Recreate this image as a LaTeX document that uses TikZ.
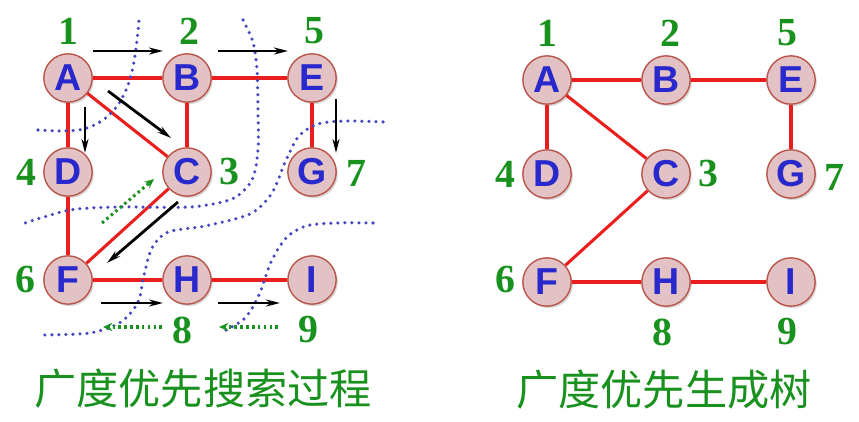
\documentclass[tikz,border=0pt]{standalone}
\usepackage{fontspec}
\setmainfont{Liberation Serif}
\setsansfont{Liberation Sans}
\newfontfamily\cjk{Noto Sans CJK SC}
\usetikzlibrary{arrows.meta,shadows}
\definecolor{nodefill}{RGB}{226,194,196}
\definecolor{nodeedge}{RGB}{185,85,75}
\definecolor{letterblue}{RGB}{40,40,205}
\definecolor{numgreen}{RGB}{25,145,30}
\definecolor{edgered}{RGB}{235,30,30}
\definecolor{layerblue}{RGB}{70,70,190}
\tikzset{
  vertex/.style={circle, draw=nodeedge, line width=1.2pt, fill=nodefill,
    minimum size=1.45cm, inner sep=0pt, text=letterblue,
    font=\sffamily\bfseries\fontsize{32}{32}\selectfont,
    drop shadow={shadow xshift=0.05cm, shadow yshift=-0.06cm, opacity=0.3}},
  order/.style={text=numgreen, font=\bfseries\fontsize{34}{34}\selectfont},
  caption/.style={text=numgreen, font=\cjk\fontsize{36}{36}\selectfont},
  tree/.style={draw=edgered, line width=2.6pt},
  visit/.style={-{Stealth[length=12pt,width=6pt]}, line width=2.4pt, black},
  back/.style={-{Stealth[length=8pt,width=7pt]}, numgreen, line width=2.6pt,
    dash pattern=on 2.2pt off 2.8pt},
  layer/.style={draw=layerblue, line width=3pt, line cap=round,
    dash pattern=on 0pt off 6pt},
}
\begin{document}
\begin{tikzpicture}[x=0.3mm, y=-0.3mm]
  \useasboundingbox (0,0) rectangle (859,422);
  % search process
  \foreach \n/\x/\y in {A/68/78, B/187/78, E/312/78, D/68/172, C/187/172,
      G/312/172, F/68/280, H/187/280, I/312/280}
    \node[vertex] (\n) at (\x,\y) {\n};
  \foreach \k/\x/\y in {1/68/31, 2/189/31, 5/314/31, 4/26/172, 3/229/172,
      7/356/173, 6/25/280, 8/182/330, 9/308/330}
    \node[order] (n\k) at (\x,\y) {\k};
  \foreach \u/\v in {A/B, B/E, A/D, A/C, B/C, E/G, D/F, C/F, F/H, H/I}
    \draw[tree] (\u) -- (\v);

  \draw[layer] plot[smooth] coordinates {(38,130) (62,131) (84,129) (103,120)
    (118,105) (128,85) (134,62) (137,40) (139,20)};
  \draw[layer] plot[smooth] coordinates {(243,20) (253,42) (257,70) (258,110)
    (258,150) (252,180) (232,199) (190,207) (120,207) (70,210) (22,224)};
  \draw[layer] plot[smooth] coordinates {(383,122) (345,121) (318,124) (299,136)
    (286,160) (272,193) (250,214) (205,226) (168,232) (152,248) (144,275)
    (138,302) (121,322) (90,333) (40,335)};
  \draw[layer] plot[smooth] coordinates {(373,223) (335,223) (306,226) (286,238)
    (271,262) (259,295) (244,319) (220,333)};

  \foreach \n/\x/\y in {ab1/93/51, ab2/163/51, be1/218/51, be2/288/51,
      ad1/85/107, ad2/85/153, ac1/108/91, ac2/171/138, eg1/336/99, eg2/336/153,
      cf1/178/202, cf2/107/263, fh1/101/303, fh2/163/303, hi1/218/303,
      hi2/280/303, cb1/102/223, cb2/154/179, hb1/162/327, hb2/103/327,
      ib1/278/327, ib2/219/327}
    \coordinate (\n) at (\x,\y);
  \foreach \s/\t in {ab1/ab2, be1/be2, ad1/ad2, ac1/ac2, eg1/eg2, cf1/cf2,
      fh1/fh2, hi1/hi2}
    \draw[visit] (\s) -- (\t);
  \foreach \s/\t in {cb1/cb2, hb1/hb2, ib1/ib2}
    \draw[back] (\s) -- (\t);
  \node[caption] (cap1) at (203,389) {广度优先搜索过程};

  % spanning tree
  \begin{scope}[xshift=143.7mm, yshift=-0.6mm]
    \foreach \n/\x/\y in {A/68/78, B/187/78, E/312/78, D/68/172, C/187/172,
        G/312/172, F/68/280, H/187/280, I/312/280}
      \node[vertex] (t\n) at (\x,\y) {\n};
    \foreach \k/\x/\y in {1/68/31, 2/191/31, 5/308/31, 4/26/172, 3/229/172,
        7/355/175, 6/26/278, 8/183/330, 9/308/330}
      \node[order] (m\k) at (\x,\y) {\k};
  \end{scope}
  \foreach \u/\v in {A/B, B/E, A/D, A/C, E/G, C/F, F/H, H/I}
    \draw[tree] (t\u) -- (t\v);
  \node[caption] (cap2) at (664,390) {广度优先生成树};
\end{tikzpicture}
\end{document}
